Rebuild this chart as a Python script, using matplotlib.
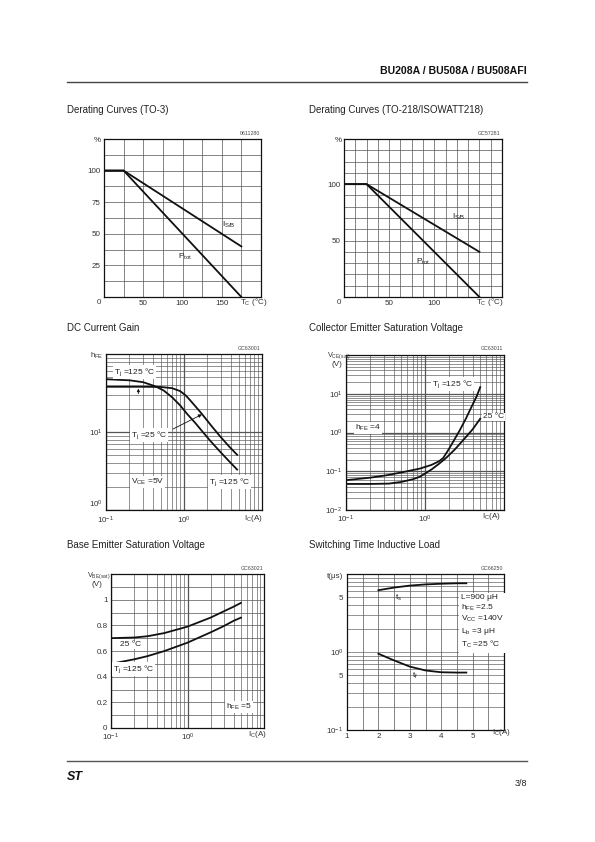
import numpy as np
import matplotlib
matplotlib.use('Agg')
import matplotlib.pyplot as plt
from matplotlib.ticker import LogLocator, NullFormatter, FixedLocator, FixedFormatter

plt.rcParams['font.family'] = ['Liberation Sans', 'DejaVu Sans']
plt.rcParams['mathtext.default'] = 'regular'

W, H = 595, 842

# ---------------- data ----------------
to3_tc = [0, 25, 175]
to3_isb = [100, 100, 40]
to3_ptot = [100, 100, 0]

to218_tc = [0, 25, 150]
to218_isb = [100, 100, 40]
to218_ptot = [100, 100, 0]

hfe_ic_25 = [0.1, 0.3, 0.5, 0.7, 0.89, 1.05, 1.2, 1.45, 1.7, 2.2, 2.9, 3.8, 4.8]
hfe_25 = [38, 38, 37.8, 36.5, 33.5, 29.5, 25.5, 20.5, 17, 12.3, 8.8, 6.5, 5.1]
hfe_ic_125 = [0.1, 0.2, 0.3, 0.43, 0.55, 0.7, 0.89, 1.1, 1.4, 1.7, 2.2, 2.9, 3.8, 4.8]
hfe_125 = [47.5, 46, 43.5, 38.5, 34, 28, 22, 17, 13, 10.3, 7.6, 5.6, 4.2, 3.3]

vce_ic_25 = [0.1, 0.2, 0.35, 0.5, 0.7, 0.86, 1.2, 1.5, 1.87, 2.4, 3.03, 4.0, 5.0]
vce_25 = [0.047, 0.047, 0.048, 0.053, 0.062, 0.072, 0.11, 0.155, 0.225, 0.37, 0.63, 1.2, 2.27]
vce_ic_125 = [0.1, 0.2, 0.33, 0.5, 0.86, 1.2, 1.5, 1.7, 2.0, 2.4, 2.76, 3.3, 3.86, 4.5, 5.0]
vce_125 = [0.059, 0.068, 0.079, 0.093, 0.117, 0.145, 0.18, 0.22, 0.37, 0.7, 1.15, 2.3, 4.5, 8.5, 14.8]

vbe_ic = [0.1, 0.2, 0.3, 0.5, 1.0, 2.0, 3.0, 4.0, 5.0]
vbe_25 = [0.70, 0.705, 0.715, 0.74, 0.79, 0.86, 0.91, 0.945, 0.975]
vbe_125 = [0.50, 0.535, 0.56, 0.60, 0.665, 0.745, 0.795, 0.835, 0.86]

sw_ic = [2.0, 2.5, 3.0, 3.5, 4.0, 4.5, 4.8]
sw_ts = [6.2, 6.7, 7.1, 7.35, 7.5, 7.6, 7.6]
sw_tf = [0.95, 0.78, 0.65, 0.58, 0.55, 0.545, 0.545]

# ---------------- figure ----------------
fig = plt.figure(figsize=(W / 100, H / 100), dpi=100)

GRID_C = '#555555'
TICK_C = '#333333'
CURVE_LW = 1.3
TFS = 5.8   # tick font size
AFS = 6.0   # annotation font size


def ax_px(x0, y0, x1, y1):
    ax = fig.add_axes([x0 / W, 1 - y1 / H, (x1 - x0) / W, (y1 - y0) / H])
    for s in ax.spines.values():
        s.set_linewidth(0.9)
        s.set_color('#111111')
    ax.tick_params(which='both', length=0, labelsize=TFS, labelcolor=TICK_C, pad=2.5)
    ax.set_axisbelow(True)
    return ax


def ftxt(x, y, s, **kw):
    kw.setdefault('fontsize', AFS)
    kw.setdefault('color', '#222222')
    return fig.text(x / W, 1 - y / H, s, **kw)


def wbox():
    return dict(facecolor='white', edgecolor='none', pad=0.6)


def log_grid(ax, axis='both'):
    for a in ([ax.xaxis, ax.yaxis] if axis == 'both' else [getattr(ax, axis + 'axis')]):
        a.set_minor_locator(LogLocator(base=10, subs=np.arange(2, 10)))
        a.set_minor_formatter(NullFormatter())
    ax.grid(True, which='minor', color=GRID_C, lw=0.45)
    ax.grid(True, which='major', color=GRID_C, lw=0.9)


# ---------- header / footer ----------
ftxt(527, 71, 'BU208A / BU508A / BU508AFI', fontsize=7.6, fontweight='bold',
     ha='right', va='center', color='#111111')
fig.add_artist(plt.Line2D([67 / W, 527 / W], [1 - 82 / H, 1 - 82 / H], color='#444444', lw=1.0))
fig.add_artist(plt.Line2D([67 / W, 527 / W], [1 - 761 / H, 1 - 761 / H], color='#555555', lw=1.0))
ftxt(527, 783, '3/8', fontsize=6.5, ha='right', va='center', color='#222222')
ftxt(67, 777, 'ST', fontsize=9, fontweight='bold', fontstyle='italic', ha='left', va='center',
     color='#111111')

# ---------- titles ----------
TT = 7.0
ftxt(67, 110, 'Derating Curves (TO-3)', fontsize=TT, va='center')
ftxt(309, 110, 'Derating Curves (TO-218/ISOWATT218)', fontsize=TT, va='center')
ftxt(67, 328, 'DC Current Gain', fontsize=TT, va='center')
ftxt(309, 328, 'Collector Emitter Saturation Voltage', fontsize=TT, va='center')
ftxt(67, 545, 'Base Emitter Saturation Voltage', fontsize=TT, va='center')
ftxt(309, 545, 'Switching Time Inductive Load', fontsize=TT, va='center')

IDFS = 3.8

# ---------- chart 1 : Derating TO-3 ----------
ax1 = ax_px(104, 139, 261, 297)
ax1.set_xlim(0, 200)
ax1.set_ylim(0, 125)
ax1.xaxis.set_major_locator(FixedLocator([50, 100, 150]))
ax1.xaxis.set_minor_locator(FixedLocator(np.arange(0, 201, 25)))
ax1.yaxis.set_major_locator(FixedLocator([25, 50, 75, 100]))
ax1.yaxis.set_minor_locator(FixedLocator(np.arange(0, 126, 12.5)))
ax1.grid(True, which='both', color=GRID_C, lw=0.5)
ax1.plot(to3_tc, to3_isb, color='#111111', lw=CURVE_LW, solid_joinstyle='miter')
ax1.plot(to3_tc, to3_ptot, color='#111111', lw=CURVE_LW, solid_joinstyle='miter')
ftxt(99, 302, '0', fontsize=TFS, ha='center', va='center', color=TICK_C)
ftxt(97, 141, '%', fontsize=TFS, ha='center', va='center', color=TICK_C)
ftxt(240, 302, r'T$_{C}$ (°C)', fontsize=TFS, ha='left', va='center', color=TICK_C)
ftxt(222, 225, r'I$_{S/B}$', ha='left', va='center')
ftxt(178, 257, r'P$_{tot}$', ha='left', va='center')
ftxt(260, 136, '0611280', fontsize=IDFS, ha='right', va='bottom', color='#444444')

# ---------- chart 2 : Derating TO-218 ----------
ax2 = ax_px(344, 139, 502, 297)
ax2.set_xlim(0, 175)
ax2.set_ylim(0, 140)
ax2.xaxis.set_major_locator(FixedLocator([50, 100]))
ax2.xaxis.set_minor_locator(FixedLocator(np.arange(0, 176, 12.5)))
ax2.yaxis.set_major_locator(FixedLocator([50, 100]))
ax2.yaxis.set_minor_locator(FixedLocator(np.arange(0, 141, 10)))
ax2.grid(True, which='both', color=GRID_C, lw=0.5)
ax2.plot(to218_tc, to218_isb, color='#111111', lw=CURVE_LW, solid_joinstyle='miter')
ax2.plot(to218_tc, to218_ptot, color='#111111', lw=CURVE_LW, solid_joinstyle='miter')
ftxt(339, 302, '0', fontsize=TFS, ha='center', va='center', color=TICK_C)
ftxt(338, 141, '%', fontsize=TFS, ha='center', va='center', color=TICK_C)
ftxt(476, 302, r'T$_{C}$ (°C)', fontsize=TFS, ha='left', va='center', color=TICK_C)
ftxt(452, 217, r'I$_{S/B}$', ha='left', va='center')
ftxt(416, 262, r'P$_{tot}$', ha='left', va='center')
ftxt(500, 136, 'GC57281', fontsize=IDFS, ha='right', va='bottom', color='#444444')

# ---------- chart 3 : DC current gain ----------
ax3 = ax_px(106, 354, 262, 510)
ax3.set_xscale('log')
ax3.set_yscale('log')
ax3.set_xlim(0.1, 10)
ax3.set_ylim(1, 100)
ax3.xaxis.set_major_locator(FixedLocator([0.1, 1]))
ax3.xaxis.set_major_formatter(FixedFormatter(['10$^{-1}$', '10$^{0}$']))
ax3.yaxis.set_major_locator(FixedLocator([1, 10]))
ax3.yaxis.set_major_formatter(FixedFormatter(['10$^{0}$', '10$^{1}$']))
log_grid(ax3)
ax3.tick_params(axis='x', pad=3.5)
ax3.plot(hfe_ic_25, hfe_25, color='#111111', lw=CURVE_LW)
ax3.plot(hfe_ic_125, hfe_125, color='#111111', lw=CURVE_LW)
ax3.annotate('', xy=(1.7, 16.8), xytext=(0.72, 10.9),
             arrowprops=dict(arrowstyle='-|>', color='#111111', lw=0.6,
                             mutation_scale=5, shrinkA=0, shrinkB=0))
ax3.annotate('', xy=(0.26, 36), xytext=(0.26, 31),
             arrowprops=dict(arrowstyle='-|>', color='#111111', lw=0.6,
                             mutation_scale=4, shrinkA=0, shrinkB=0))
fig.canvas.draw()
ax3.get_yticklabels()[0].set_va('bottom')
ftxt(90, 356, r'h$_{FE}$', fontsize=TFS, ha='left', va='center', color=TICK_C)
ftxt(244, 518, r'I$_{C}$(A)', fontsize=TFS, ha='left', va='center', color=TICK_C)
ftxt(114, 372, r'T$_{j}$ =125 °C', ha='left', va='center', bbox=wbox())
ftxt(131, 435, r'T$_{j}$ =25 °C', ha='left', va='center', bbox=wbox())
ftxt(131, 482, r'V$_{CE}$ =5V', ha='left', va='center', bbox=wbox())
ftxt(209, 482, r'T$_{j}$ =125 °C', ha='left', va='center', bbox=wbox())
ftxt(261, 351, 'GC63001', fontsize=IDFS, ha='right', va='bottom', color='#444444')

# ---------- chart 4 : VCE(sat) ----------
ax4 = ax_px(346, 355, 504, 510)
ax4.set_xscale('log')
ax4.set_yscale('log')
ax4.set_xlim(0.1, 10)
ax4.set_ylim(0.01, 100)
ax4.xaxis.set_major_locator(FixedLocator([0.1, 1]))
ax4.xaxis.set_major_formatter(FixedFormatter(['10$^{-1}$', '10$^{0}$']))
ax4.yaxis.set_major_locator(FixedLocator([0.01, 0.1, 1, 10]))
ax4.yaxis.set_major_formatter(FixedFormatter(['10$^{-2}$', '10$^{-1}$', '10$^{0}$', '10$^{1}$']))
log_grid(ax4)
ax4.plot(vce_ic_25, vce_25, color='#111111', lw=CURVE_LW)
ax4.plot(vce_ic_125, vce_125, color='#111111', lw=CURVE_LW)
ftxt(327, 356, r'V$_{CE(sat)}$', fontsize=5.2, ha='left', va='center', color=TICK_C)
ftxt(332, 364, '(V)', fontsize=TFS, ha='left', va='center', color=TICK_C)
ftxt(482, 517, r'I$_{C}$(A)', fontsize=TFS, ha='left', va='center', color=TICK_C)
ftxt(432, 384, r'T$_{j}$ =125 °C', ha='left', va='center', bbox=wbox())
ftxt(483, 417, '25 °C', ha='left', va='center', bbox=wbox())
ftxt(355, 428, r'h$_{FE}$ =4', ha='left', va='center', bbox=wbox())
ftxt(503, 351, 'GC63011', fontsize=IDFS, ha='right', va='bottom', color='#444444')

# ---------- chart 5 : VBE(sat) ----------
ax5 = ax_px(111, 574, 264, 728)
ax5.set_xscale('log')
ax5.set_xlim(0.1, 10)
ax5.set_ylim(0, 1.2)
ax5.xaxis.set_major_locator(FixedLocator([0.1, 1]))
ax5.xaxis.set_major_formatter(FixedFormatter(['10$^{-1}$', '10$^{0}$']))
ax5.yaxis.set_major_locator(FixedLocator([0, 0.2, 0.4, 0.6, 0.8, 1.0]))
ax5.yaxis.set_major_formatter(FixedFormatter(['0', '0.2', '0.4', '0.6', '0.8', '1']))
ax5.yaxis.set_minor_locator(FixedLocator(np.arange(0, 1.21, 0.1)))
log_grid(ax5, 'x')
ax5.grid(True, which='both', axis='y', color=GRID_C, lw=0.5)
ax5.plot(vbe_ic, vbe_25, color='#111111', lw=CURVE_LW)
ax5.plot(vbe_ic, vbe_125, color='#111111', lw=CURVE_LW)
ftxt(87, 576, r'V$_{BE(sat)}$', fontsize=5.2, ha='left', va='center', color=TICK_C)
ftxt(92, 584, '(V)', fontsize=TFS, ha='left', va='center', color=TICK_C)
ftxt(248, 734, r'I$_{C}$(A)', fontsize=TFS, ha='left', va='center', color=TICK_C)
ftxt(120, 645, '25 °C', ha='left', va='center', bbox=wbox())
ftxt(113, 669, r'T$_{j}$ =125 °C', ha='left', va='center', bbox=wbox())
ftxt(226, 707, r'h$_{FE}$ =5', ha='left', va='center', bbox=wbox())
ftxt(263, 571, 'GC63021', fontsize=IDFS, ha='right', va='bottom', color='#444444')

# ---------- chart 6 : switching times ----------
ax6 = ax_px(347, 574, 504, 730)
ax6.set_yscale('log')
ax6.set_xlim(1, 6)
ax6.set_ylim(0.1, 10)
ax6.xaxis.set_major_locator(FixedLocator([1, 2, 3, 4, 5]))
ax6.xaxis.set_major_formatter(FixedFormatter(['1', '2', '3', '4', '5']))
ax6.xaxis.set_minor_locator(FixedLocator(np.arange(1, 6.01, 0.5)))
ax6.yaxis.set_major_locator(FixedLocator([0.1, 0.5, 1, 5]))
ax6.yaxis.set_major_formatter(FixedFormatter(['10$^{-1}$', '5', '10$^{0}$', '5']))
ax6.yaxis.set_minor_locator(LogLocator(base=10, subs=np.arange(2, 10)))
ax6.yaxis.set_minor_formatter(NullFormatter())
ax6.grid(True, which='both', axis='x', color=GRID_C, lw=0.5)
ax6.grid(True, which='both', axis='y', color=GRID_C, lw=0.45)
ax6.plot(sw_ic, sw_ts, color='#111111', lw=CURVE_LW)
ax6.plot(sw_ic, sw_tf, color='#111111', lw=CURVE_LW)
ftxt(327, 576, 't(μs)', fontsize=TFS, ha='left', va='center', color=TICK_C)
ftxt(492, 733, r'I$_{C}$(A)', fontsize=TFS, ha='left', va='center', color=TICK_C)
ftxt(395, 598, r't$_{s}$', ha='left', va='center')
ftxt(412, 676, r't$_{f}$', ha='left', va='center')
ftxt(461, 622, 'L=900 μH\n' + r'h$_{FE}$ =2.5' + '\n' + r'V$_{CC}$ =140V' + '\n'
     + r'L$_{b}$ =3 μH' + '\n' + r'T$_{C}$ =25 °C',
     ha='left', va='center', linespacing=1.25, bbox=dict(facecolor='white', edgecolor='none', pad=1.5))
ftxt(503, 571, 'GC66250', fontsize=IDFS, ha='right', va='bottom', color='#444444')

fig.savefig('out.png', dpi=100, facecolor='white')
